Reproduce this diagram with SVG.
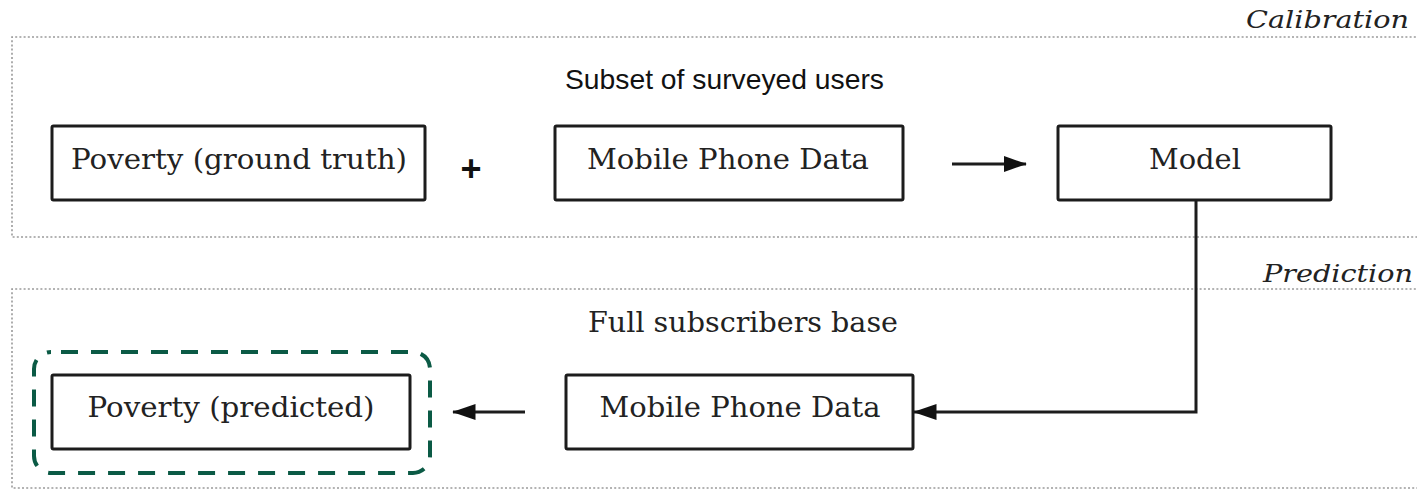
<svg xmlns="http://www.w3.org/2000/svg" width="1417" height="490" viewBox="0 0 1417 490">
<style>
.frame{fill:none;stroke:#9a9a9a;stroke-width:1.6;stroke-dasharray:2 2.2}
.box{fill:#fff;stroke:#1c1c1c;stroke-width:3}
.t{font-family:"DejaVu Serif","Liberation Serif",serif;font-size:27px;fill:#222;text-anchor:middle}
.lbl{font-family:"DejaVu Serif","Liberation Serif",serif;font-style:italic;font-size:25px;fill:#222;text-anchor:end}
.sans{font-family:"Liberation Sans",Arial,sans-serif;font-size:28px;fill:#111;text-anchor:middle}
.conn{fill:none;stroke:#1c1c1c;stroke-width:3}
</style>
<defs>
<marker id="ah" markerWidth="8" markerHeight="6" refX="7.5" refY="3" orient="auto" markerUnits="strokeWidth">
<path d="M0,0.3 L7.8,3 L0,5.7 Z" fill="#111"/>
</marker>
</defs>
<rect width="1417" height="490" fill="#fff"/>
<g id="frames">
<path class="frame" d="M1420,37 H12 V237 H1420"/>
<path class="frame" d="M1420,289 H12 V488 H1420"/>
<text class="lbl" x="1409" y="28" textLength="163" lengthAdjust="spacingAndGlyphs">Calibration</text>
<text class="lbl" x="1413" y="282" textLength="150" lengthAdjust="spacingAndGlyphs">Prediction</text>
<text class="sans" x="724.5" y="89" textLength="319" lengthAdjust="spacingAndGlyphs">Subset of surveyed users</text>
<text class="t" x="743" y="332" textLength="310" lengthAdjust="spacingAndGlyphs">Full subscribers base</text>
</g>
<g id="connectors">
<path class="conn" d="M952,164 H1026" marker-end="url(#ah)"/>
<path class="conn" d="M1196,200 V412 H914" marker-end="url(#ah)"/>
<path class="conn" d="M525,412 H453" marker-end="url(#ah)"/>
<text x="471" y="181" font-family="Liberation Sans,Arial,sans-serif" font-weight="bold" font-size="36" fill="#111" text-anchor="middle">+</text>
</g>
<g id="node-poverty-truth">
<rect class="box" x="52" y="126" width="373" height="74" rx="1.5"/>
<text class="t" x="239" y="169" textLength="336" lengthAdjust="spacingAndGlyphs">Poverty (ground truth)</text>
</g>
<g id="node-mobile-top">
<rect class="box" x="555" y="126" width="348" height="74" rx="1.5"/>
<text class="t" x="728" y="169" textLength="282" lengthAdjust="spacingAndGlyphs">Mobile Phone Data</text>
</g>
<g id="node-model">
<rect class="box" x="1058" y="126" width="273" height="74" rx="1.5"/>
<text class="t" x="1195" y="169" textLength="92" lengthAdjust="spacingAndGlyphs">Model</text>
</g>
<g id="node-mobile-bottom">
<rect class="box" x="566" y="375" width="347" height="74" rx="1.5"/>
<text class="t" x="740" y="417" textLength="281" lengthAdjust="spacingAndGlyphs">Mobile Phone Data</text>
</g>
<g id="node-poverty-predicted">
<rect x="34" y="352" width="396" height="121" rx="17" fill="none" stroke="#0b5a45" stroke-width="4" stroke-dasharray="17 13" stroke-dashoffset="-10"/>
<rect class="box" x="52" y="375" width="358" height="74" rx="1.5"/>
<text class="t" x="231" y="417" textLength="287" lengthAdjust="spacingAndGlyphs">Poverty (predicted)</text>
</g>
</svg>
